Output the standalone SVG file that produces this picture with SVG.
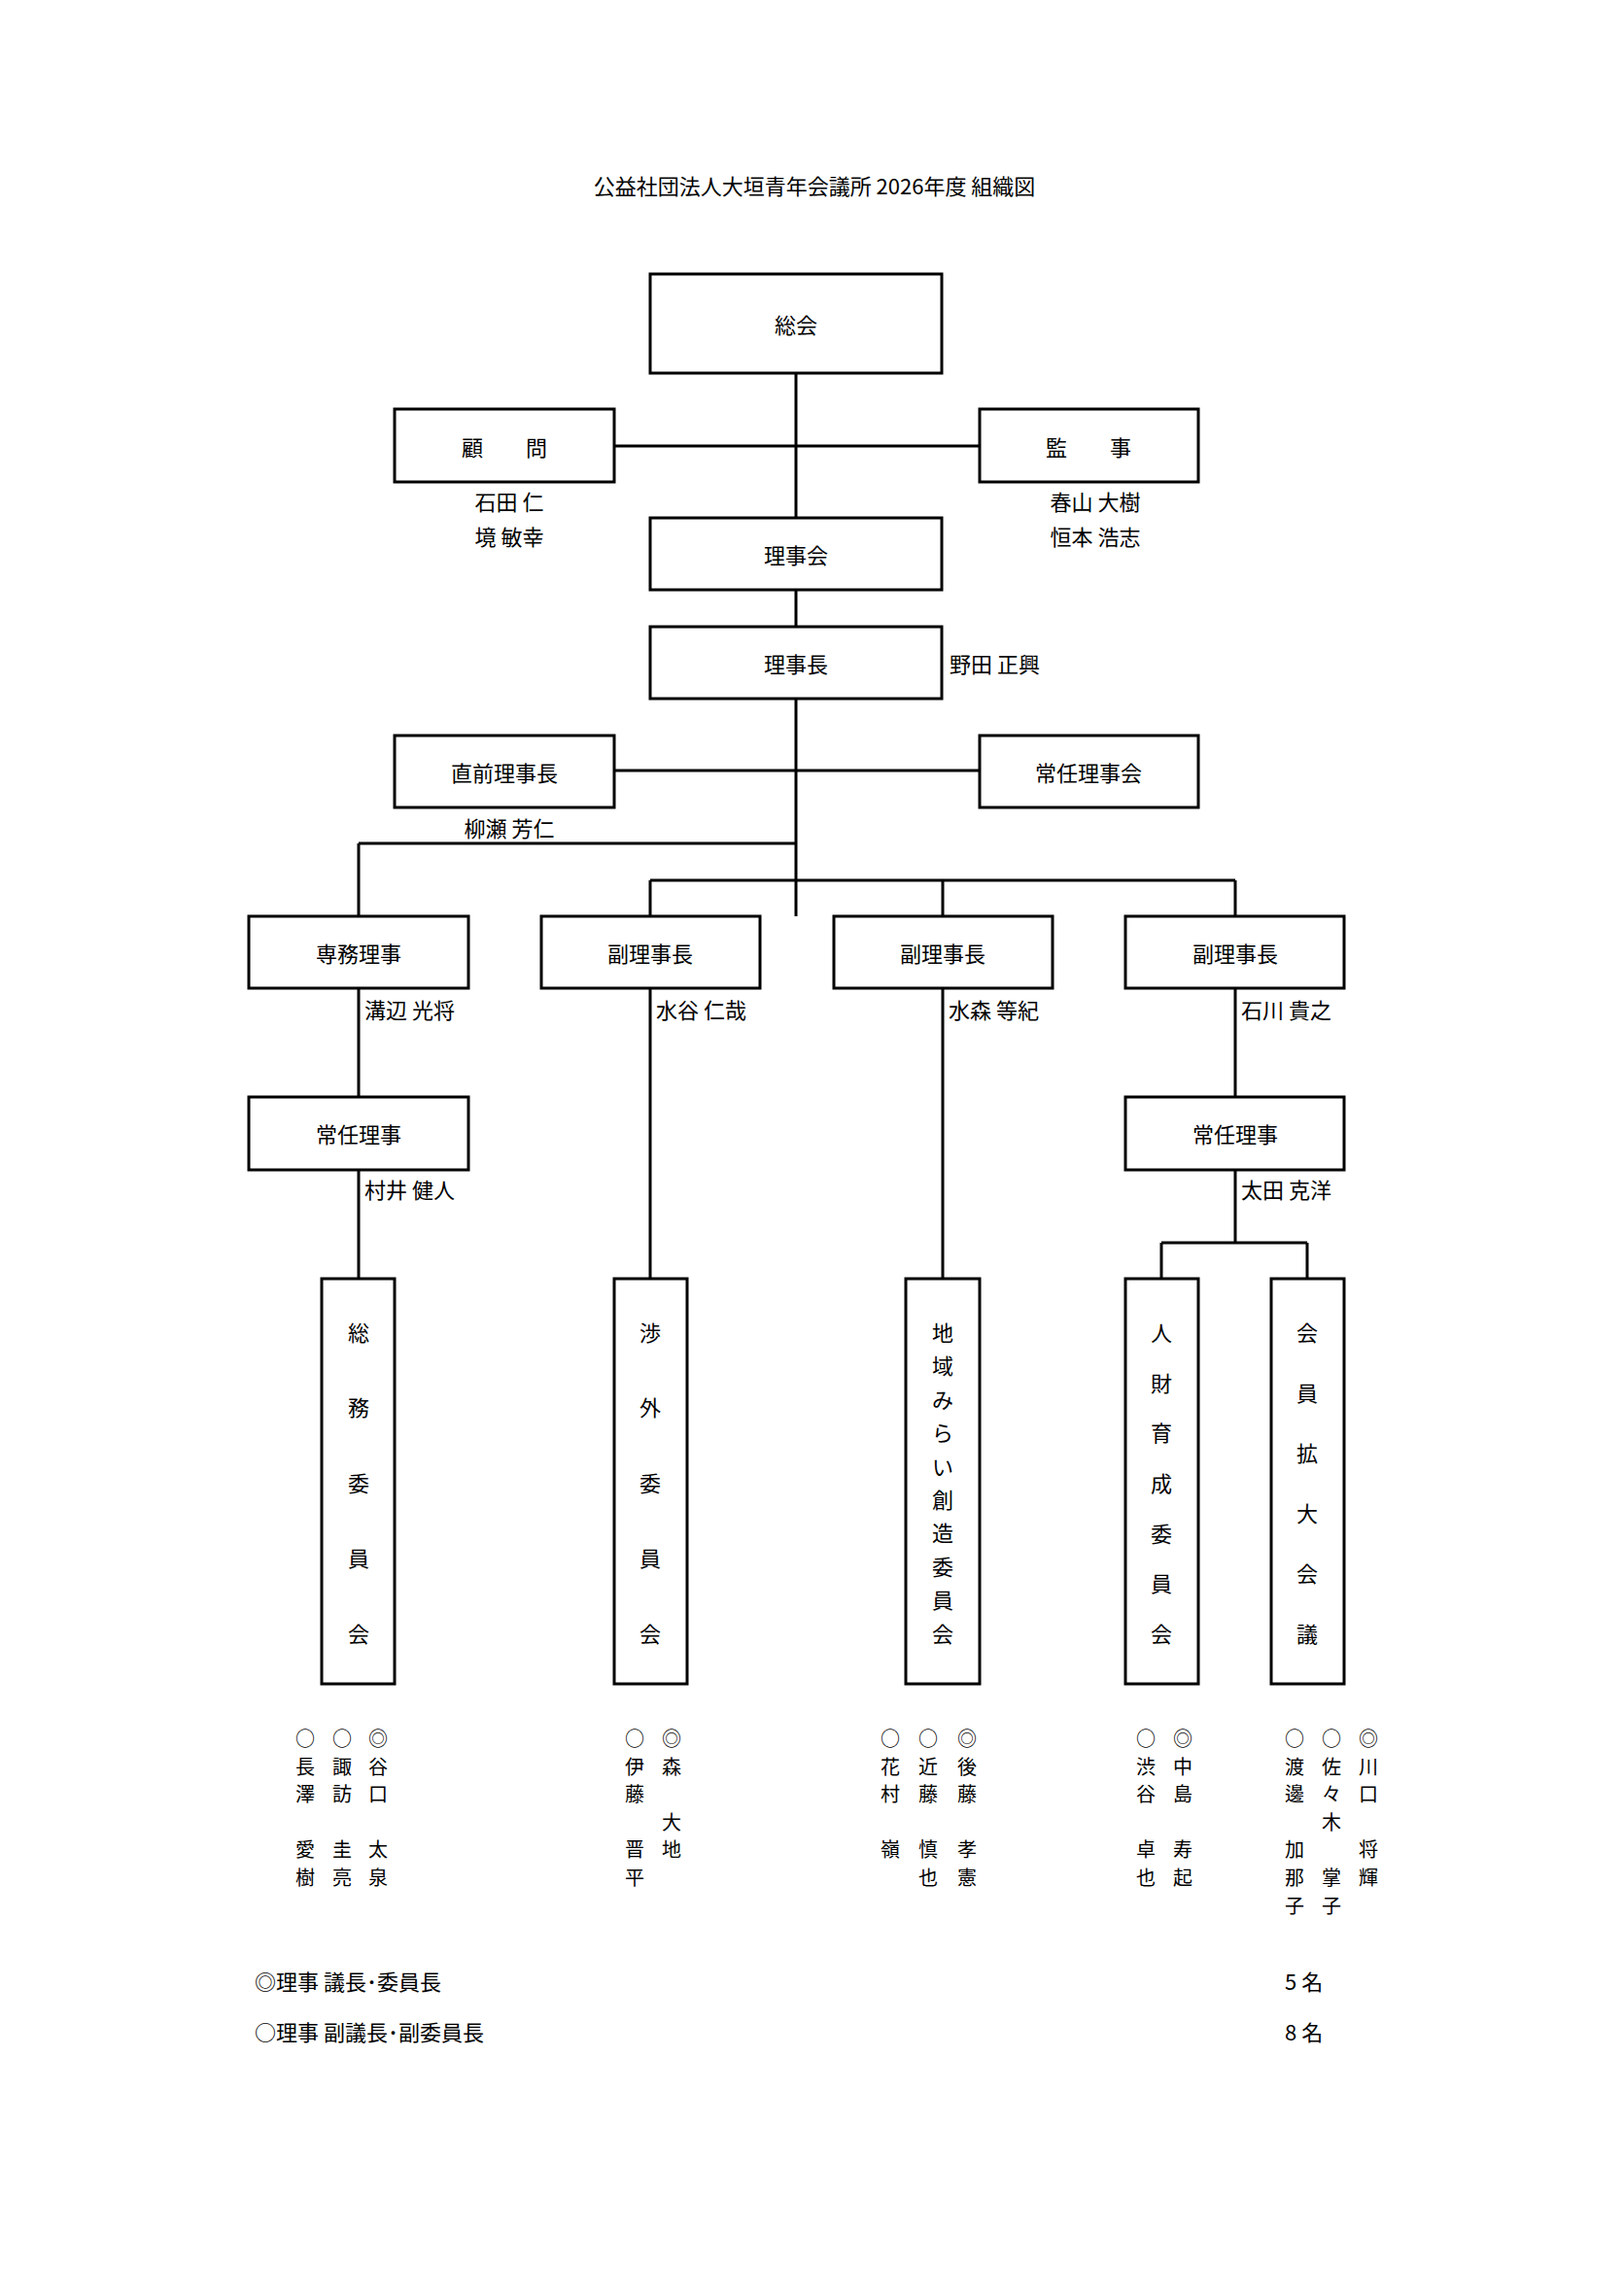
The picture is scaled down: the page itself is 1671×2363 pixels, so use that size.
<svg xmlns="http://www.w3.org/2000/svg" width="1671" height="2363" viewBox="0 0 1671 2363">
<style>
text{font-family:"Noto Sans CJK JP","Liberation Serif",serif;fill:#000;font-size:22px}
.c{text-anchor:middle;dominant-baseline:central}
.l{dominant-baseline:central}
.m{font-size:20px;text-anchor:middle;dominant-baseline:central}
rect{fill:#fff;stroke:#000;stroke-width:3}
#conn path{fill:none;stroke:#000;stroke-width:3}
</style>
<rect x="0" y="0" width="1671" height="2363" style="stroke:none"/>
<text class="c" x="838" y="190">公益社団法人大垣青年会議所 2026年度 組織図</text>
<g id="conn">
<path d="M819 384V533M632 459H1008M819 607V645M819 719V943M632 793H1008M369 868H819M369 868V943M669 906H1271M669 906V943M970 906V943M1271 906V943M369 1017V1129M369 1204V1316M669 1017V1316M970 1017V1316M1271 1017V1129M1271 1204V1279M1195 1279H1345M1195 1279V1316M1345 1279V1316"/>
</g>
<g id="n-soukai"><rect x="669" y="282" width="300" height="102"/><text class="c" x="819" y="333">総会</text></g>
<g id="n-komon"><rect x="406" y="421" width="226" height="75"/><text class="c" x="519" y="459">顧　　問</text><text class="c" x="524" y="515">石田  仁</text><text class="c" x="524" y="551">境  敏幸</text></g>
<g id="n-kanji"><rect x="1008" y="421" width="225" height="75"/><text class="c" x="1120" y="459">監　　事</text><text class="c" x="1127" y="515">春山 大樹</text><text class="c" x="1127" y="551">恒本 浩志</text></g>
<g id="n-rijikai"><rect x="669" y="533" width="300" height="74"/><text class="c" x="819" y="570">理事会</text></g>
<g id="n-rijicho"><rect x="669" y="645" width="300" height="74"/><text class="c" x="819" y="682">理事長</text><text class="l" x="977" y="682">野田 正興</text></g>
<g id="n-chokuzen"><rect x="406" y="757" width="226" height="74"/><text class="c" x="519" y="794">直前理事長</text><text class="c" x="524" y="851">柳瀬 芳仁</text></g>
<g id="n-jouninrijikai"><rect x="1008" y="757" width="225" height="74"/><text class="c" x="1120" y="794">常任理事会</text></g>
<g id="n-senmu"><rect x="256" y="943" width="226" height="74"/><text class="c" x="369" y="980">専務理事</text><text class="l" x="375" y="1038">溝辺 光将</text></g>
<g id="n-fuku1"><rect x="557" y="943" width="225" height="74"/><text class="c" x="669" y="980">副理事長</text><text class="l" x="675" y="1038">水谷 仁哉</text></g>
<g id="n-fuku2"><rect x="858" y="943" width="225" height="74"/><text class="c" x="970" y="980">副理事長</text><text class="l" x="976" y="1038">水森 等紀</text></g>
<g id="n-fuku3"><rect x="1158" y="943" width="225" height="74"/><text class="c" x="1271" y="980">副理事長</text><text class="l" x="1277" y="1038">石川 貴之</text></g>
<g id="n-jounin1"><rect x="256" y="1129" width="226" height="75"/><text class="c" x="369" y="1166">常任理事</text><text class="l" x="375" y="1223">村井 健人</text></g>
<g id="n-jounin2"><rect x="1158" y="1129" width="225" height="75"/><text class="c" x="1271" y="1166">常任理事</text><text class="l" x="1277" y="1223">太田 克洋</text></g>
<g id="n-soumu"><rect x="331" y="1316" width="75" height="417"/>
<text class="c" x="369" y="1370">総</text><text class="c" x="369" y="1447">務</text><text class="c" x="369" y="1525">委</text><text class="c" x="369" y="1602">員</text><text class="c" x="369" y="1680">会</text></g>
<g id="n-shougai"><rect x="632" y="1316" width="75" height="417"/>
<text class="c" x="669" y="1370">渉</text><text class="c" x="669" y="1447">外</text><text class="c" x="669" y="1525">委</text><text class="c" x="669" y="1602">員</text><text class="c" x="669" y="1680">会</text></g>
<g id="n-chiiki"><rect x="932" y="1316" width="76" height="417"/>
<text class="c" x="970" y="1370">地</text><text class="c" x="970" y="1404">域</text><text class="c" x="970" y="1439">み</text><text class="c" x="970" y="1473">ら</text><text class="c" x="970" y="1508">い</text><text class="c" x="970" y="1542">創</text><text class="c" x="970" y="1576">造</text><text class="c" x="970" y="1611">委</text><text class="c" x="970" y="1645">員</text><text class="c" x="970" y="1680">会</text></g>
<g id="n-jinzai"><rect x="1158" y="1316" width="75" height="417"/>
<text class="c" x="1195" y="1370">人</text><text class="c" x="1195" y="1422">財</text><text class="c" x="1195" y="1473">育</text><text class="c" x="1195" y="1525">成</text><text class="c" x="1195" y="1577">委</text><text class="c" x="1195" y="1628">員</text><text class="c" x="1195" y="1680">会</text></g>
<g id="n-kaiin"><rect x="1308" y="1316" width="75" height="417"/>
<text class="c" x="1345" y="1370">会</text><text class="c" x="1345" y="1432">員</text><text class="c" x="1345" y="1494">拡</text><text class="c" x="1345" y="1556">大</text><text class="c" x="1345" y="1618">会</text><text class="c" x="1345" y="1680">議</text></g>
<g id="members">
<text class="m" x="314" y="1788">○</text><text class="m" x="314" y="1817">長</text><text class="m" x="314" y="1845">澤</text><text class="m" x="314" y="1902">愛</text><text class="m" x="314" y="1931">樹</text>
<text class="m" x="352" y="1788">○</text><text class="m" x="352" y="1817">諏</text><text class="m" x="352" y="1845">訪</text><text class="m" x="352" y="1902">圭</text><text class="m" x="352" y="1931">亮</text>
<text class="m" x="389" y="1788">◎</text><text class="m" x="389" y="1817">谷</text><text class="m" x="389" y="1845">口</text><text class="m" x="389" y="1902">太</text><text class="m" x="389" y="1931">泉</text>
<text class="m" x="653" y="1788">○</text><text class="m" x="653" y="1817">伊</text><text class="m" x="653" y="1845">藤</text><text class="m" x="653" y="1902">晋</text><text class="m" x="653" y="1931">平</text>
<text class="m" x="691" y="1788">◎</text><text class="m" x="691" y="1817">森</text><text class="m" x="691" y="1874">大</text><text class="m" x="691" y="1902">地</text>
<text class="m" x="916" y="1788">○</text><text class="m" x="916" y="1817">花</text><text class="m" x="916" y="1845">村</text><text class="m" x="916" y="1902">嶺</text>
<text class="m" x="955" y="1788">○</text><text class="m" x="955" y="1817">近</text><text class="m" x="955" y="1845">藤</text><text class="m" x="955" y="1902">慎</text><text class="m" x="955" y="1931">也</text>
<text class="m" x="995" y="1788">◎</text><text class="m" x="995" y="1817">後</text><text class="m" x="995" y="1845">藤</text><text class="m" x="995" y="1902">孝</text><text class="m" x="995" y="1931">憲</text>
<text class="m" x="1179" y="1788">○</text><text class="m" x="1179" y="1817">渋</text><text class="m" x="1179" y="1845">谷</text><text class="m" x="1179" y="1902">卓</text><text class="m" x="1179" y="1931">也</text>
<text class="m" x="1217" y="1788">◎</text><text class="m" x="1217" y="1817">中</text><text class="m" x="1217" y="1845">島</text><text class="m" x="1217" y="1902">寿</text><text class="m" x="1217" y="1931">起</text>
<text class="m" x="1332" y="1788">○</text><text class="m" x="1332" y="1817">渡</text><text class="m" x="1332" y="1845">邊</text><text class="m" x="1332" y="1902">加</text><text class="m" x="1332" y="1931">那</text><text class="m" x="1332" y="1960">子</text>
<text class="m" x="1370" y="1788">○</text><text class="m" x="1370" y="1817">佐</text><text class="m" x="1370" y="1845">々</text><text class="m" x="1370" y="1874">木</text><text class="m" x="1370" y="1931">掌</text><text class="m" x="1370" y="1960">子</text>
<text class="m" x="1408" y="1788">◎</text><text class="m" x="1408" y="1817">川</text><text class="m" x="1408" y="1845">口</text><text class="m" x="1408" y="1902">将</text><text class="m" x="1408" y="1931">輝</text>
</g>
<g id="legend">
<text class="l" x="262" y="2038">◎理事  議長･委員長</text>
<text class="l" x="262" y="2090">○理事  副議長･副委員長</text>
<text class="l" x="1322" y="2038">5  名</text>
<text class="l" x="1322" y="2090">8  名</text>
</g>
</svg>
